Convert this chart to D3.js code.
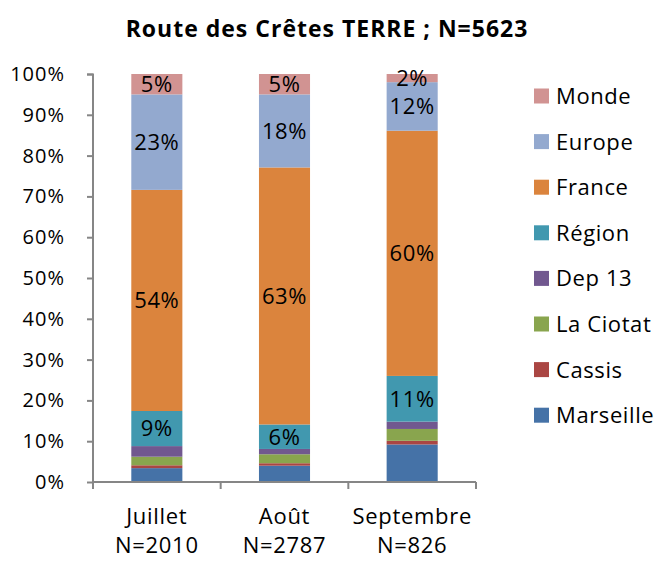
<!DOCTYPE html>
<html>
<head>
<meta charset="utf-8">
<script src="https://cdn.jsdelivr.net/npm/d3@7"></script>
<style>
  body { margin: 0; background: #fff; }
  text { font-family: "Open Sans", sans-serif; fill: #000; }
</style>
</head>
<body>
<div class="canvas"></div>
<script>
// data (percent of each month)
const months = ['Juillet', 'Août', 'Septembre'];
const monthN = ['N=2010', 'N=2787', 'N=826'];
const series = ['Marseille', 'Cassis', 'La Ciotat', 'Dep 13', 'Région', 'France', 'Europe', 'Monde'];
const colors = ['#4572A7', '#AA4643', '#89A54E', '#71588F', '#4198AF', '#DB843D', '#93A9CF', '#D19392'];
const marseille = [3.4, 4.0, 9.2];
const cassis    = [0.7, 0.6, 0.9];
const laCiotat  = [2.1, 2.2, 2.9];
const dep13     = [2.6, 1.3, 1.8];
const region    = [8.6, 6.0, 11.2];
const france    = [54.2, 63.0, 60.1];
const europe    = [23.4, 17.9, 11.9];
const monde     = [5.0, 5.0, 2.0];
const labelled  = ['Région', 'France', 'Europe', 'Monde'];
const yTicks = [0, 10, 20, 30, 40, 50, 60, 70, 80, 90, 100];

const values = [marseille, cassis, laCiotat, dep13, region, france, europe, monde];
const rows = months.map((m, i) => {
  const r = {month: m};
  series.forEach((s, j) => r[s] = values[j][i]);
  return r;
});

const svg = d3.select('.canvas')
  .append('svg')
  .attr('width', 656)
  .attr('height', 561);

const x = d3.scaleBand()
  .domain(months)
  .range([93, 476])
  .paddingInner(0.6)
  .paddingOuter(0.3);

const y = d3.scaleLinear()
  .domain([0, 100])
  .range([482, 74]);

const stack = d3.stack().keys(series);
const layers = stack(rows);

// bars
svg.selectAll('g.layer')
  .data(layers)
  .join('g')
  .attr('class', 'layer')
  .attr('fill', (d, i) => colors[i])
  .selectAll('rect')
  .data(d => d)
  .join('rect')
  .attr('x', d => x(d.data.month))
  .attr('width', x.bandwidth())
  .attr('y', d => y(d[1]))
  .attr('height', d => y(d[0]) - y(d[1]));

// labels inside bars
layers.filter(l => labelled.includes(l.key)).forEach(l => {
  svg.selectAll(null)
    .data(l)
    .join('text')
    .attr('x', d => x(d.data.month) + x.bandwidth() / 2)
    .attr('y', d => (y(d[0]) + y(d[1])) / 2)
    .attr('dy', '0.36em')
    .attr('text-anchor', 'middle')
    .style('font-size', '22px')
    .style('letter-spacing', '0.6px')
    .text(d => Math.round(d[1] - d[0]) + '%');
});

// y axis
const yAxis = d3.axisLeft(y)
  .tickValues(yTicks)
  .tickFormat(d => d + '%')
  .tickSize(6)
  .tickPadding(22);
const yAxisGroup = svg.append('g')
  .attr('transform', 'translate(93,0)')
  .call(yAxis);
yAxisGroup.select('.domain').attr('stroke', '#868686').attr('stroke-width', 2)
  .attr('d', 'M-6,74.5H0V482');
yAxisGroup.selectAll('line').attr('stroke', '#868686').attr('stroke-width', 2);
yAxisGroup.selectAll('text')
  .attr('fill', '#000')
  .style('font-size', '20px')
  .style('letter-spacing', '1px')
  .style('font-family', '"Open Sans", sans-serif');

// x axis line and boundary ticks
svg.append('line')
  .attr('x1', 92).attr('x2', 476)
  .attr('y1', 482).attr('y2', 482)
  .attr('stroke', '#868686').attr('stroke-width', 2);
const bounds = months.map(m => x(m) - x.step() * x.paddingOuter()).concat([476]);
svg.selectAll('line.xtick')
  .data(bounds)
  .join('line')
  .attr('class', 'xtick')
  .attr('x1', d => d).attr('x2', d => d)
  .attr('y1', 482).attr('y2', 489)
  .attr('stroke', '#868686').attr('stroke-width', 2);

// category labels
const xl = svg.selectAll('g.xlab')
  .data(months)
  .join('g')
  .attr('class', 'xlab')
  .attr('transform', d => `translate(${x(d) + x.bandwidth() / 2},0)`);
xl.append('text')
  .attr('y', 524)
  .attr('text-anchor', 'middle')
  .style('font-size', '22px')
  .style('letter-spacing', '0.7px')
  .text(d => d);
xl.append('text')
  .attr('y', 553)
  .attr('text-anchor', 'middle')
  .style('font-size', '22px')
  .style('letter-spacing', '0.7px')
  .text((d, i) => monthN[i]);

// title
svg.append('text')
  .attr('x', 327)
  .attr('y', 37)
  .attr('text-anchor', 'middle')
  .style('font-size', '23px')
  .style('letter-spacing', '1px')
  .style('font-weight', 'bold')
  .text('Route des Crêtes TERRE ; N=5623');

// legend, top item is last series
const legend = svg.selectAll('g.legend')
  .data(series.slice().reverse())
  .join('g')
  .attr('class', 'legend')
  .attr('transform', (d, i) => `translate(534,${96 + i * 45.6})`);
legend.append('rect')
  .attr('y', -7.5)
  .attr('width', 15)
  .attr('height', 15)
  .attr('fill', d => colors[series.indexOf(d)]);
legend.append('text')
  .attr('x', 22)
  .attr('dy', '0.36em')
  .style('font-size', '22px')
  .style('letter-spacing', '0.6px')
  .text(d => d);
</script>
</body>
</html>
